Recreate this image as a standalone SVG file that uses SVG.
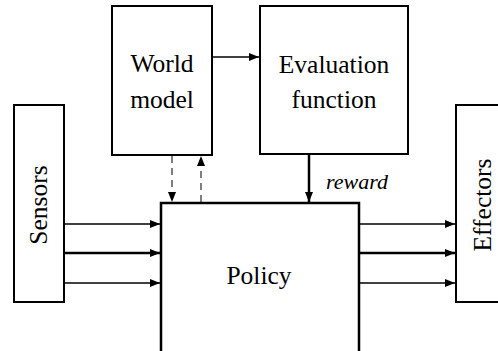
<svg xmlns="http://www.w3.org/2000/svg" width="498" height="351" viewBox="0 0 498 351">
<style>
.box{fill:#fff;stroke:#000;stroke-width:2}
.t{font-family:'Liberation Serif','Times New Roman',serif;font-size:25.5px;fill:#000;text-anchor:middle}
.c{stroke:#000;stroke-width:1.5;fill:none}
.thick{stroke-width:2.5}
.dash{stroke-dasharray:7,5;stroke-width:1}
</style>
<defs>
<marker id="ah" viewBox="0 0 10 8" refX="10" refY="4" markerWidth="10" markerHeight="8" markerUnits="userSpaceOnUse" orient="auto">
<path d="M0,0 L10,4 L0,8 Z" fill="#000"/>
</marker>
</defs>
<rect width="498" height="351" fill="#fff"/>
<g id="world-model">
<rect class="box" x="112" y="6" width="100" height="149"/>
<text class="t" x="162" y="72">World</text>
<text class="t" x="162" y="108">model</text>
</g>
<g id="evaluation-function">
<rect class="box" x="260" y="6" width="148" height="148"/>
<text class="t" x="334" y="73">Evaluation</text>
<text class="t" x="334" y="108">function</text>
</g>
<g id="sensors">
<rect class="box" x="14" y="105" width="50" height="197"/>
<text class="t" transform="translate(47,205) rotate(-90)">Sensors</text>
</g>
<g id="effectors">
<rect class="box" x="456" y="105" width="50" height="197"/>
<text class="t" transform="translate(491,205) rotate(-90)">Effectors</text>
</g>
<g id="policy">
<path d="M161,360 V203 H359 V360" fill="#fff" stroke="#000" stroke-width="2.5"/>
<text class="t" x="259" y="284">Policy</text>
</g>
<g id="connectors">
<line class="c" x1="212" y1="57" x2="259" y2="57" marker-end="url(#ah)"/>
<line class="c dash" x1="172" y1="156" x2="172" y2="202" marker-end="url(#ah)"/>
<line class="c dash" x1="201" y1="202" x2="201" y2="156" marker-end="url(#ah)"/>
<line class="c thick" x1="309" y1="154" x2="309" y2="202" marker-end="url(#ah)"/>
<text x="326" y="189" font-family="'Liberation Serif','Times New Roman',serif" font-style="italic" font-size="22">reward</text>
<line class="c" x1="64" y1="224" x2="160" y2="224" marker-end="url(#ah)"/>
<line class="c thick" x1="64" y1="253" x2="160" y2="253" marker-end="url(#ah)"/>
<line class="c" x1="64" y1="283" x2="160" y2="283" marker-end="url(#ah)"/>
<line class="c" x1="359" y1="224" x2="455" y2="224" marker-end="url(#ah)"/>
<line class="c thick" x1="359" y1="253" x2="455" y2="253" marker-end="url(#ah)"/>
<line class="c" x1="359" y1="283" x2="455" y2="283" marker-end="url(#ah)"/>
</g>
</svg>
